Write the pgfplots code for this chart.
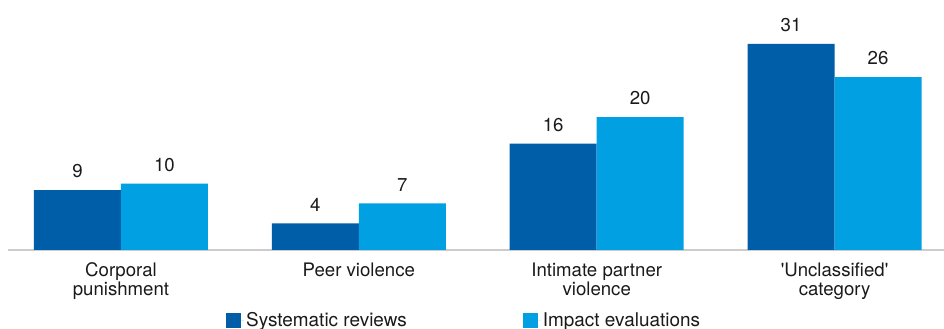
\documentclass[border=0pt]{standalone}
\usepackage{pgfplots}
\pgfplotsset{compat=1.18}
\usepackage{fontspec}
\newfontfamily\hv{TeX Gyre Heros}
\definecolor{darkb}{HTML}{005DA8}
\definecolor{lightb}{HTML}{00A0E3}
\definecolor{txt}{HTML}{1A1A1A}
\definecolor{axgray}{HTML}{CCCCCC}
\newcommand\lab{\hv\fontsize{18.7}{19}\selectfont}
\newcommand\leg{\hv\fontsize{19}{20}\selectfont}
\begin{document}
\begin{tikzpicture}
\useasboundingbox (0bp,0bp) rectangle (944bp,329bp);
\begin{axis}[
  at={(8bp,79bp)}, anchor=south west,
  scale only axis, width=936bp, height=250bp,
  xmin=-0.475, xmax=3.46, ymin=0, ymax=37.6,
  ybar=0pt, bar width=87bp,
  axis x line*=bottom, axis y line=none,
  x axis line style={draw=axgray, line width=2bp, -},
  xtick={0,1,2,3},
  xticklabels={{Corporal\\punishment},{Peer violence},{Intimate partner\\violence},{'Unclassified'\\category}},
  major tick length=0pt,
  xticklabel style={align=center, font=\lab, text=txt, anchor=north, yshift=-9bp},
  ytick=\empty,
  nodes near coords={\pgfmathprintnumber[assume math mode=true]{\pgfplotspointmeta}},
  nodes near coords style={font=\lab, text=txt, anchor=south, inner sep=0pt, yshift=12bp},
  legend columns=2,
  legend image code/.code={\fill[#1,draw=none] (0bp,-7.5bp) rectangle (15bp,7.5bp);\path (0bp,0bp) -- (18bp,0bp);},
  legend style={at={(0.2329,-0.28)}, anchor=west, draw=none, fill=none, inner sep=0pt,
    font=\leg, text=txt, /tikz/every even column/.append style={column sep=114bp}},
]
\addplot[fill=darkb, draw=none] coordinates {(0,9) (1,4) (2,16) (3,31)};
\addplot[fill=lightb, draw=none] coordinates {(0,10) (1,7) (2,20) (3,26)};
\legend{Systematic reviews, Impact evaluations}
\end{axis}
\end{tikzpicture}
\end{document}
